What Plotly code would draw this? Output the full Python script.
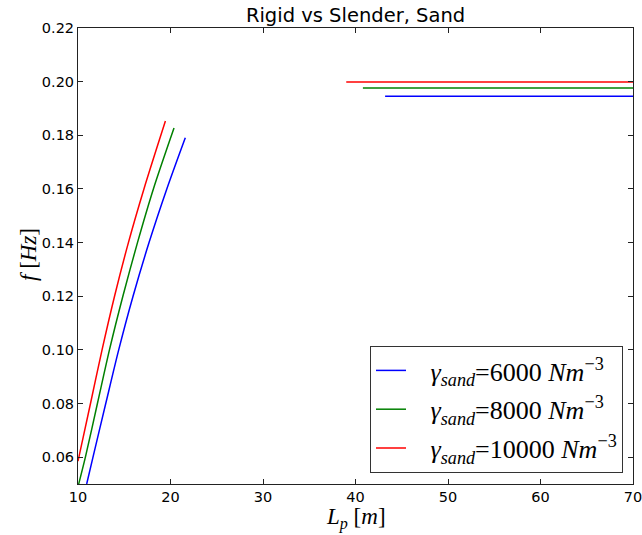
import plotly.graph_objects as go

# Rigid-pile branch: natural frequency f [Hz] against pile length L_p [m]
L_rigid_6000 = [10.94, 11.62, 13.0, 14.4, 15.95, 17.68, 19.6, 21.6]
f_rigid_6000 = [0.05, 0.06, 0.08, 0.10, 0.12, 0.14, 0.16, 0.1791]

L_rigid_8000 = [10.0, 10.8, 12.1, 13.4, 14.85, 16.43, 18.15, 20.38]
f_rigid_8000 = [0.049, 0.06, 0.08, 0.10, 0.12, 0.14, 0.16, 0.1827]

L_rigid_10000 = [10.0, 11.35, 12.6, 13.95, 15.45, 17.13, 19.45]
f_rigid_10000 = [0.0585, 0.08, 0.10, 0.12, 0.14, 0.16, 0.1853]

# Slender-pile branch: frequency no longer depends on length
L_slender_start = [43.2, 40.8, 39.0]
L_slender_end = [70.0, 70.0, 70.0]
f_slender = [0.1946, 0.1976, 0.1999]

gamma_values = ["6000", "8000", "10000"]
series_colors = ["#0000ff", "#008000", "#ff0000"]

rigid_L = [L_rigid_6000, L_rigid_8000, L_rigid_10000]
rigid_f = [f_rigid_6000, f_rigid_8000, f_rigid_10000]

W, H = 642, 535
ML, MR, MT, MB = 78, 9, 28, 51

fig = go.Figure()
for i in range(3):
    xs = list(rigid_L[i]) + [None, L_slender_start[i], L_slender_end[i]]
    ys = list(rigid_f[i]) + [None, f_slender[i], f_slender[i]]
    label = ("\u00a0\u00a0\u00a0<i>γ</i><sub><i>sand</i></sub>=" + gamma_values[i]
             + " <i>Nm</i><sup>−3</sup>")
    fig.add_trace(go.Scatter(
        x=xs, y=ys, mode="lines", name=label,
        line=dict(color=series_colors[i], width=1.5, shape="spline", smoothing=0.8),
        connectgaps=False, legendgroup=f"g{i}",
    ))

axis_common = dict(
    showline=True, linecolor="#222222", linewidth=1, mirror="ticks",
    ticks="inside", ticklen=5, tickcolor="#222222", tickwidth=1,
    showgrid=False, zeroline=False, automargin=False,
    tickfont=dict(family="DejaVu Sans", size=14.5, color="black"),
)

fig.update_layout(
    width=W, height=H,
    margin=dict(l=ML, r=MR, t=MT, b=MB),
    paper_bgcolor="white", plot_bgcolor="white",
    title=dict(text="Rigid vs Slender, Sand", x=0.5, xref="paper",
               y=1 - 15 / H, yref="container", yanchor="middle",
               font=dict(family="DejaVu Sans", size=19.5, color="black")),
    xaxis=dict(range=[10, 70], dtick=10, tick0=10, tickformat="d",
               ticklabeloverflow="allow", **axis_common),
    yaxis=dict(range=[0.05, 0.22], dtick=0.02, tick0=0, tickformat=".2f", **axis_common),
    showlegend=True,
    legend=dict(
        x=(623 - ML) / (W - ML - MR), xanchor="right",
        y=(H - MB - 473) / (H - MT - MB), yanchor="bottom",
        bgcolor="white", bordercolor="#333333", borderwidth=1,
        font=dict(family="Liberation Serif", size=26, color="black"),
        tracegroupgap=2, itemwidth=30,
    ),
    annotations=[
        dict(text="<i>L</i><sub><i>p</i></sub> [<i>m</i>]", xref="paper", yref="paper",
             x=0.5, y=-(518 - (H - MB)) / (H - MT - MB), xanchor="center", yanchor="middle",
             showarrow=False, font=dict(family="Liberation Serif", size=23, color="black")),
        dict(text="<i>f</i> [<i>Hz</i>]", xref="paper", yref="paper",
             x=-(ML - 28) / (W - ML - MR), y=(H - MB - 255) / (H - MT - MB),
             xanchor="center", yanchor="middle", textangle=-90,
             showarrow=False, font=dict(family="Liberation Serif", size=23, color="black")),
    ],
)

fig.write_html("out.html")
